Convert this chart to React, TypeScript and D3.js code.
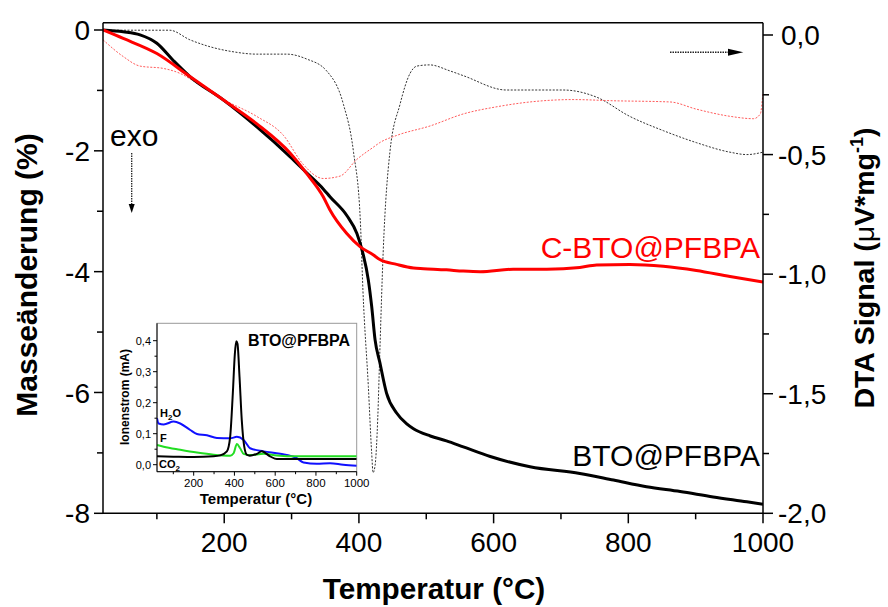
import React from "react";
import * as d3 from "d3";

// ---------- data ----------
const tgBlackT = [20, 50, 75, 100, 124, 149, 199, 248, 298, 322, 347, 357, 382, 397, 406, 414, 419, 424, 431, 441, 456, 471, 481, 506, 530, 555, 595, 654, 728, 778, 827, 877, 926, 976, 1000];
const tgBlackV = [0, -0.03, -0.08, -0.22, -0.5, -0.77, -1.16, -1.6, -2.1, -2.36, -2.63, -2.76, -3.07, -3.37, -3.7, -4.14, -4.58, -5.13, -5.5, -6.01, -6.34, -6.52, -6.6, -6.72, -6.8, -6.9, -7.06, -7.23, -7.34, -7.45, -7.56, -7.64, -7.73, -7.81, -7.85];

const tgRedT = [20, 50, 100, 149, 199, 248, 298, 322, 347, 357, 382, 402, 421, 431, 456, 481, 496, 530, 555, 580, 629, 679, 728, 753, 802, 852, 901, 951, 1000];
const tgRedV = [0, -0.14, -0.39, -0.77, -1.16, -1.55, -2.04, -2.37, -2.76, -2.98, -3.37, -3.59, -3.72, -3.8, -3.88, -3.94, -3.95, -3.97, -3.99, -4.0, -3.96, -3.96, -3.93, -3.89, -3.88, -3.91, -3.98, -4.08, -4.17];

const dtaBlackT = [20, 60, 119, 149, 180, 213, 248, 293, 322, 352, 377, 392, 402, 406, 414, 419, 421, 424, 428, 431, 436, 446, 461, 476, 486, 505, 535, 555, 619, 654, 703, 753, 802, 852, 901, 951, 976, 1000];
const dtaBlackV = [0.02, 0.02, 0.02, -0.02, -0.05, -0.07, -0.08, -0.08, -0.1, -0.15, -0.29, -0.49, -0.77, -1.07, -1.47, -1.75, -1.83, -1.8, -1.6, -1.33, -0.91, -0.49, -0.29, -0.16, -0.13, -0.125, -0.15, -0.17, -0.23, -0.23, -0.23, -0.26, -0.34, -0.4, -0.45, -0.49, -0.5, -0.49];

const dtaRedT = [20, 50, 75, 110, 134, 159, 199, 248, 288, 317, 347, 372, 397, 421, 431, 456, 506, 555, 605, 654, 718, 778, 862, 901, 951, 986, 996, 1000];
const dtaRedV = [-0.02, -0.09, -0.13, -0.14, -0.16, -0.2, -0.27, -0.34, -0.42, -0.54, -0.6, -0.59, -0.52, -0.47, -0.45, -0.42, -0.38, -0.33, -0.3, -0.28, -0.27, -0.275, -0.28, -0.31, -0.34, -0.35, -0.33, -0.24];

// inset (ion current)
const msBlackT = [20, 100, 200, 298, 330, 363, 379, 392, 402, 409, 415, 425, 436, 448, 461, 475, 510, 534, 575, 608, 700, 800, 900, 1000];
const msBlackV = [0.027, 0.026, 0.025, 0.027, 0.03, 0.043, 0.09, 0.229, 0.357, 0.398, 0.39, 0.283, 0.144, 0.059, 0.032, 0.029, 0.035, 0.043, 0.027, 0.018, 0.018, 0.018, 0.018, 0.018];
const msBlueT = [20, 28, 53, 102, 134, 183, 216, 265, 314, 379, 412, 445, 477, 543, 624, 706, 739, 804, 869, 934, 1000];
const msBlueV = [0.15, 0.133, 0.13, 0.139, 0.133, 0.112, 0.099, 0.095, 0.086, 0.085, 0.09, 0.08, 0.053, 0.043, 0.035, 0.021, 0.007, 0.003, 0.005, 0.0, -0.003];
const msGreenT = [20, 53, 134, 216, 298, 379, 396, 412, 428, 445, 477, 543, 608, 706, 869, 1000];
const msGreenV = [0.064, 0.058, 0.048, 0.039, 0.032, 0.029, 0.037, 0.067, 0.053, 0.035, 0.031, 0.035, 0.03, 0.027, 0.027, 0.027];

const xTicks = [200, 400, 600, 800, 1000];
const xMinor = [100, 300, 500, 700, 900];
const leftTicks = [0, -2, -4, -6, -8];
const leftMinor = [-1, -3, -5, -7];
const rightTicks = [0, -0.5, -1, -1.5, -2];
const rightMinor = [-0.25, -0.75, -1.25, -1.75];
const insetXTicks = [200, 400, 600, 800, 1000];
const insetXMinor = [100, 300, 500, 700, 900];
const insetYTicks = [0, 0.1, 0.2, 0.3, 0.4];
const insetYMinor = [0.05, 0.15, 0.25, 0.35];

const FONT = "'Liberation Sans', Arial, Helvetica, sans-serif";
const fmtComma = (v: number) => v.toFixed(1).replace(".", ",");

export default function App() {
  const L = 103, R = 763, T = 22.7, B = 513.3;
  const x = d3.scaleLinear().domain([20, 1000]).range([L, R]);
  const yL = d3.scaleLinear().domain([0, -8]).range([30, B]);
  const yR = d3.scaleLinear().domain([0, -2]).range([35, B]);

  const zip = (a: number[], b: number[]) => a.map((t, i) => [t, b[i]] as [number, number]);
  const lineL = d3.line<[number, number]>().x(d => x(d[0])).y(d => yL(d[1])).curve(d3.curveMonotoneX);
  const lineR = d3.line<[number, number]>().x(d => x(d[0])).y(d => yR(d[1])).curve(d3.curveMonotoneX);

  // inset
  const iL = 157, iR = 356.7, iT = 323.3, iB = 471.7;
  const ix = d3.scaleLinear().domain([20, 1000]).range([iL, iR]);
  const iy = d3.scaleLinear().domain([0, 0.4]).range([464.7, 340.7]);
  const lineI = d3.line<[number, number]>().x(d => ix(d[0])).y(d => iy(d[1])).curve(d3.curveMonotoneX);

  return (
    <svg width={888} height={607} style={{ position: "absolute", left: 0, top: 0, background: "#fff" }} fontFamily={FONT}>
      <defs>
        <clipPath id="plotClip"><rect x={L} y={T} width={R - L} height={B - T} /></clipPath>
        <clipPath id="insetClip"><rect x={iL} y={iT} width={iR - iL} height={iB - iT} /></clipPath>
      </defs>
      <rect x={0} y={0} width={888} height={607} fill="#fff" />

      <g clipPath="url(#plotClip)">
        <path d={lineR(zip(dtaBlackT, dtaBlackV)) || ""} fill="none" stroke="#333" strokeWidth={1} strokeDasharray="2 1.5" />
        <path d={lineR(zip(dtaRedT, dtaRedV)) || ""} fill="none" stroke="#ff5a5a" strokeWidth={1} strokeDasharray="2 1.5" />
        <path d={lineL(zip(tgBlackT, tgBlackV)) || ""} fill="none" stroke="#000" strokeWidth={3} />
        <path d={lineL(zip(tgRedT, tgRedV)) || ""} fill="none" stroke="#ff0000" strokeWidth={3} />
      </g>

      {/* frame */}
      <line x1={L} x2={R} y1={T} y2={T} stroke="#000" strokeWidth={1.5} />
      <line x1={L} x2={L} y1={T} y2={B} stroke="#000" strokeWidth={1.5} />
      <line x1={R} x2={R} y1={T} y2={B} stroke="#000" strokeWidth={1.5} />
      <line x1={L} x2={R} y1={B} y2={B} stroke="#000" strokeWidth={1.5} />

      {/* bottom axis */}
      {xTicks.map(t => (
        <g key={"xt" + t}>
          <line x1={x(t)} x2={x(t)} y1={B} y2={B + 10} stroke="#000" strokeWidth={1.5} />
          <text x={x(t)} y={552} fontSize={28} textAnchor="middle">{t}</text>
        </g>
      ))}
      {xMinor.map(t => <line key={"xm" + t} x1={x(t)} x2={x(t)} y1={B} y2={B + 6} stroke="#000" strokeWidth={1.5} />)}

      {/* left axis */}
      {leftTicks.map(t => (
        <g key={"lt" + t}>
          <line x1={L - 9} x2={L} y1={yL(t)} y2={yL(t)} stroke="#000" strokeWidth={1.5} />
          <text x={90} y={yL(t)} dy="0.36em" fontSize={28} textAnchor="end">{t === 0 ? "0" : "-" + Math.abs(t)}</text>
        </g>
      ))}
      {leftMinor.map(t => <line key={"lm" + t} x1={L - 6} x2={L} y1={yL(t)} y2={yL(t)} stroke="#000" strokeWidth={1.5} />)}

      {/* right axis */}
      {rightTicks.map(t => (
        <g key={"rt" + t}>
          <line x1={R} x2={R + 10} y1={yR(t)} y2={yR(t)} stroke="#000" strokeWidth={1.5} />
          <text x={t === 0 ? 781 : 778} y={yR(t)} dy="0.36em" fontSize={28} textAnchor="start">{t === 0 ? "0,0" : "-" + fmtComma(Math.abs(t))}</text>
        </g>
      ))}
      {rightMinor.map(t => <line key={"rm" + t} x1={R} x2={R + 6} y1={yR(t)} y2={yR(t)} stroke="#000" strokeWidth={1.5} />)}

      {/* axis titles */}
      <text x={434} y={599} fontSize={29.7} fontWeight="bold" textAnchor="middle">Temperatur (°C)</text>
      <text transform="translate(37,275) rotate(-90)" fontSize={30} fontWeight="bold" textAnchor="middle">Masseänderung (%)</text>
      <text transform="translate(874,268) rotate(-90)" fontSize={28.5} fontWeight="bold" textAnchor="middle">
        DTA Signal (<tspan fontWeight="normal">μ</tspan>V*mg<tspan dy={-11} fontSize={18}>-1</tspan><tspan dy={11}>)</tspan>
      </text>

      {/* series labels */}
      <text x={760} y={258} fontSize={30} fill="#ff0000" textAnchor="end">C-BTO@PFBPA</text>
      <text x={760} y={466} fontSize={30} fill="#000" textAnchor="end">BTO@PFBPA</text>

      {/* exo arrow */}
      <text x={110} y={146} fontSize={30}>exo</text>
      <line x1={131.7} x2={131.7} y1={153} y2={204} stroke="#222" strokeWidth={1.3} strokeDasharray="1.5 1" />
      <path d="M128.7,204 L134.7,204 L131.7,213 Z" fill="#000" />

      {/* right arrow */}
      <line x1={670} x2={729} y1={52.3} y2={52.3} stroke="#222" strokeWidth={1.5} strokeDasharray="1.5 1" />
      <path d="M728,48.8 L728,55.8 L743.3,52.3 Z" fill="#000" />

      {/* inset */}
      <rect x={iL} y={iT} width={iR - iL} height={iB - iT} fill="#fff" stroke="#999" strokeWidth={1} />
      <g clipPath="url(#insetClip)">
        <path d={lineI(zip(msBlueT, msBlueV)) || ""} fill="none" stroke="#1010ff" strokeWidth={2} />
        <path d={lineI(zip(msGreenT, msGreenV)) || ""} fill="none" stroke="#22dd22" strokeWidth={2} />
        <path d={lineI(zip(msBlackT, msBlackV)) || ""} fill="none" stroke="#000" strokeWidth={2} />
      </g>
      <line x1={iL} x2={iL} y1={iT} y2={iB} stroke="#000" strokeWidth={1} />
      <line x1={iL} x2={iR} y1={iB} y2={iB} stroke="#000" strokeWidth={1} />
      {insetXTicks.map(t => (
        <g key={"ixt" + t}>
          <line x1={ix(t)} x2={ix(t)} y1={iB} y2={iB + 4} stroke="#000" strokeWidth={1} />
          <text x={ix(t)} y={486.5} fontSize={11.5} textAnchor="middle">{t}</text>
        </g>
      ))}
      {insetXMinor.map(t => <line key={"ixm" + t} x1={ix(t)} x2={ix(t)} y1={iB} y2={iB + 2.5} stroke="#000" strokeWidth={1} />)}
      {insetYTicks.map(t => (
        <g key={"iyt" + t}>
          <line x1={iL - 4} x2={iL} y1={iy(t)} y2={iy(t)} stroke="#000" strokeWidth={1} />
          <text x={151} y={iy(t)} dy="0.35em" fontSize={11} textAnchor="end">{fmtComma(t)}</text>
        </g>
      ))}
      {insetYMinor.map(t => <line key={"iym" + t} x1={iL - 2.5} x2={iL} y1={iy(t)} y2={iy(t)} stroke="#000" strokeWidth={1} />)}
      <text x={256} y={504} fontSize={15} fontWeight="bold" textAnchor="middle">Temperatur (°C)</text>
      <text transform="translate(129,397) rotate(-90)" fontSize={12} fontWeight="bold" textAnchor="middle">Ionenstrom (mA)</text>
      <text x={350} y={346} fontSize={16} fontWeight="bold" textAnchor="end">BTO@PFBPA</text>
      <text x={160} y={417} fontSize={11} fontWeight="bold">H<tspan dy={3} fontSize={8}>2</tspan><tspan dy={-3}>O</tspan></text>
      <text x={160} y={442} fontSize={11} fontWeight="bold">F</text>
      <text x={159} y={468} fontSize={11} fontWeight="bold">CO<tspan dy={3} fontSize={8}>2</tspan></text>
    </svg>
  );
}
